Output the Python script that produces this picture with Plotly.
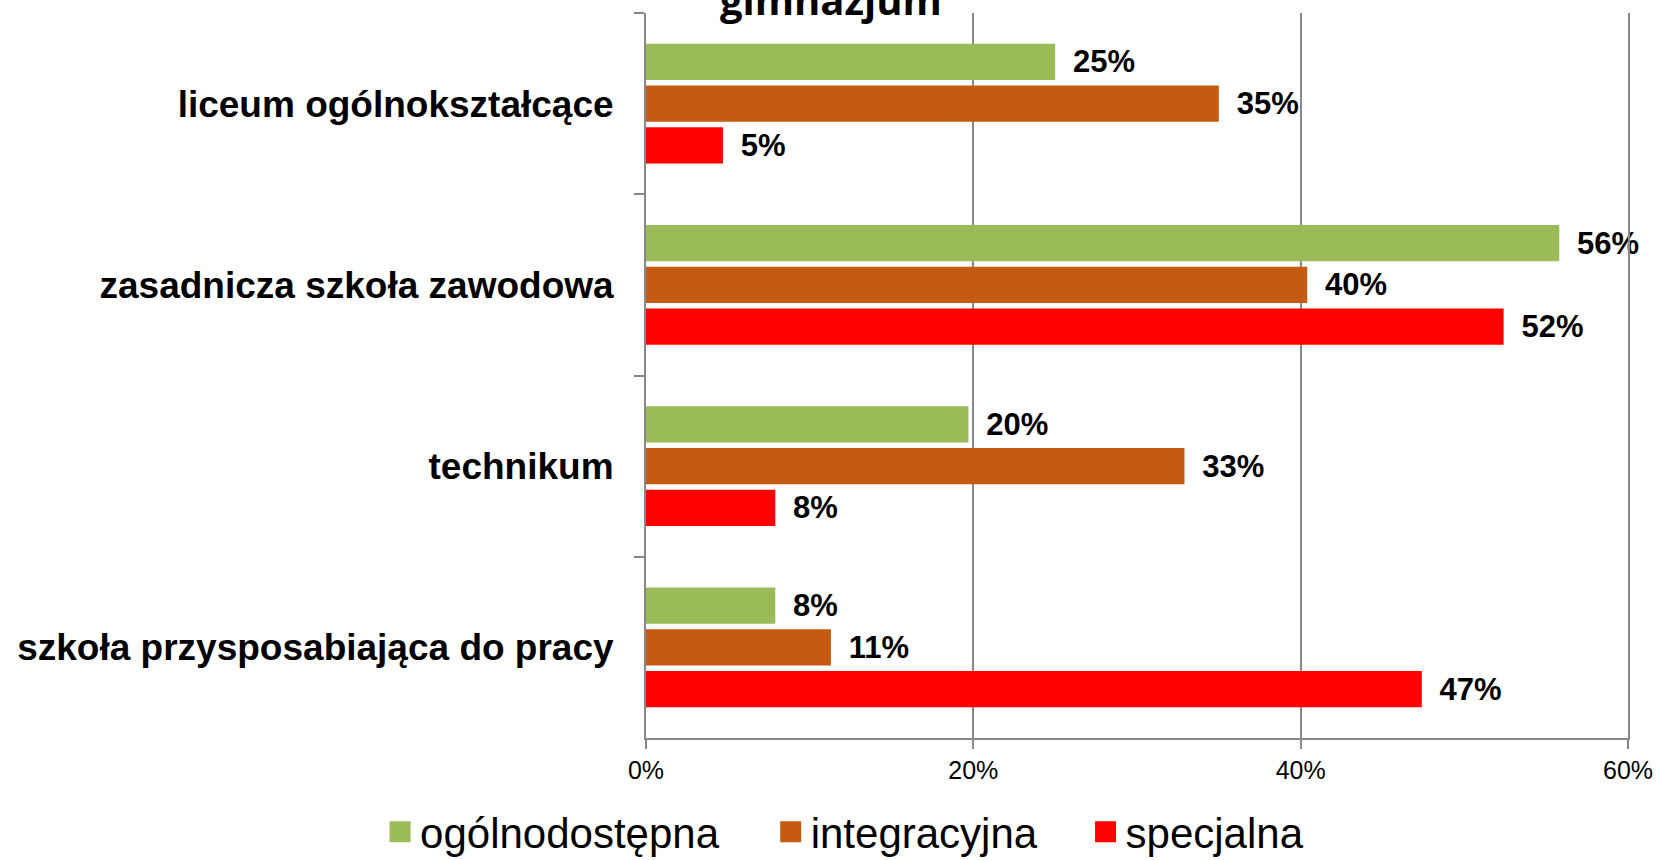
import plotly.graph_objects as go

# categories (top to bottom) and series values in percent
schools = ['liceum ogólnokształcące', 'zasadnicza szkoła zawodowa',
           'technikum', 'szkoła przysposabiająca do pracy']
ogolnodostepna = [25.0, 55.8, 19.7, 7.9]
integracyjna = [35.0, 40.4, 32.9, 11.3]
specjalna = [4.7, 52.4, 7.9, 47.4]

series_names = ['ogólnodostępna', 'integracyjna', 'specjalna']
series_colors = ['#9BBB59', '#C55A11', '#FF0000']
x_ticks = [0, 20, 40, 60]

# trailing spaces widen the gap between legend entries
legend_pads = ['\u00a0' * 4, '\u00a0' * 3 + '\u2009', '']

fig = go.Figure()
for name, vals, col, pad in zip(series_names, [ogolnodostepna, integracyjna, specjalna],
                                series_colors, legend_pads):
    fig.add_trace(go.Bar(
        y=schools, x=vals, orientation='h', name=name,
        marker=dict(color=col, line=dict(width=0)),
        texttemplate='\u00a0\u2009%{x:.0f}%', textposition='outside',
        textfont=dict(family='Liberation Sans', size=31, color='black', weight='bold'),
        constraintext='none', cliponaxis=False, showlegend=False
    ))
    # bigger square legend symbol
    fig.add_trace(go.Scatter(
        x=[None], y=[None], mode='markers', name=name + pad,
        marker=dict(symbol='square', size=16, color=col, line=dict(width=5, color=col))
    ))

fig.add_annotation(
    text='<b>gimnazjum</b>', xref='paper', yref='paper',
    x=(831 - 646) / 982, y=0.978, xanchor='center', yanchor='bottom',
    showarrow=False, font=dict(family='Open Sans', size=40, color='black')
)

fig.update_layout(
    width=1656, height=860,
    plot_bgcolor='white', paper_bgcolor='white',
    barmode='group', bargap=0.31, bargroupgap=0.13,
    margin=dict(l=646, r=28, t=13, b=122),
    legend=dict(orientation='h', xref='container', yref='container',
                x=0.2295, xanchor='left', y=0.0326, yanchor='middle',
                font=dict(family='Liberation Sans', size=42, color='black'),
                itemsizing='trace', traceorder='normal'),
    xaxis=dict(range=[0, 60], tickvals=x_ticks, ticktext=[f'{t}%' for t in x_ticks],
               showgrid=True, gridcolor='#888888', gridwidth=2,
               showline=True, linecolor='#888888', linewidth=2,
               ticks='outside', ticklen=9, tickcolor='#888888', tickwidth=2,
               ticklabeloverflow='allow', automargin=False,
               tickfont=dict(family='Liberation Sans', size=25, color='black'),
               zeroline=False),
    yaxis=dict(autorange='reversed', categoryorder='array', categoryarray=schools,
               showline=True, mirror=True, linecolor='#888888', linewidth=2,
               ticks='outside', ticklen=10, tickcolor='#888888', tickwidth=2,
               tickson='boundaries', showgrid=False, ticklabelstandoff=23,
               automargin=False,
               tickfont=dict(family='Liberation Sans', size=37, color='black', weight='bold'))
)

# drop the default page margin so the figure sits at the window's corner
fig.write_html('out.html', config={'displayModeBar': False},
               post_script="document.body.style.margin='0';")
